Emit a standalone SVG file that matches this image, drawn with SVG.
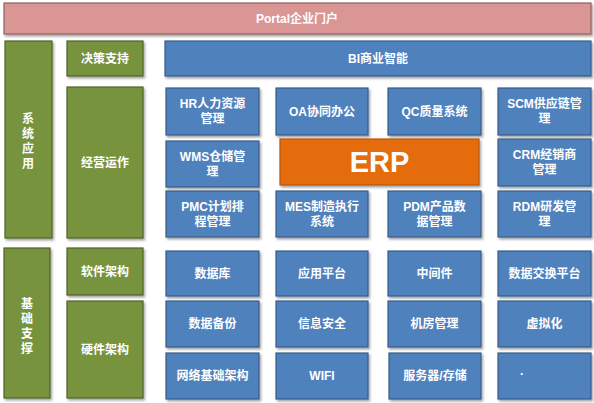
<svg xmlns="http://www.w3.org/2000/svg" width="594" height="403" viewBox="0 0 594 403">
<defs>
<filter id="sh" x="-10%" y="-10%" width="125%" height="130%">
<feDropShadow dx="1.5" dy="2" stdDeviation="1.2" flood-color="#000" flood-opacity="0.35"/>
</filter>
<style>
rect{filter:url(#sh);stroke-width:1.2}
.b{fill:#4f81bd;stroke:#385d8a}
.g{fill:#77933c;stroke:#4f6228}
.p{fill:#d99694;stroke:#8c6262}
.o{fill:#e46c0a;stroke:#b65708}
text{font-family:"Liberation Sans","Noto Sans CJK SC",sans-serif;font-weight:bold;font-size:12px;fill:#fff;text-anchor:middle;dominant-baseline:central}
.v{writing-mode:vertical-rl;letter-spacing:3px;font-family:"Noto Sans CJK SC",sans-serif}
.big{font-size:29px}
</style>
</defs>
<rect width="594" height="403" fill="#fff" style="filter:none"/>
<g id="portal"><rect class="p" x="4" y="3" width="587" height="31"/><text x="297" y="18.5">Portal企业门户</text></g>
<g id="xtyy"><rect class="g" x="5" y="41" width="47" height="197"/><text class="v" x="28" y="142">系统应用</text></g>
<g id="jczc"><rect class="g" x="4" y="248" width="46" height="150"/><text class="v" x="27" y="327">基础支撑</text></g>
<g id="jczc2"><rect class="g" x="67" y="41" width="76" height="35"/><text x="105" y="58.5">决策支持</text></g>
<g id="jyyz"><rect class="g" x="67" y="87" width="76" height="151"/><text x="105" y="163">经营运作</text></g>
<g id="rjjg"><rect class="g" x="67" y="248" width="76" height="47"/><text x="105" y="272">软件架构</text></g>
<g id="yjjg"><rect class="g" x="67" y="301" width="76" height="97"/><text x="105" y="350">硬件架构</text></g>
<g id="bi"><rect class="b" x="165" y="41" width="426" height="35"/><text x="378" y="58.5">BI商业智能</text></g>
<g id="hr"><rect class="b" x="166" y="88" width="93" height="47"/><text x="212.5" y="104">HR人力资源</text><text x="212.5" y="119">管理</text></g>
<g id="oa"><rect class="b" x="276" y="88" width="92" height="47"/><text x="322" y="111.5">OA协同办公</text></g>
<g id="qc"><rect class="b" x="388" y="88" width="93" height="47"/><text x="434.5" y="111.5">QC质量系统</text></g>
<g id="scm"><rect class="b" x="498" y="88" width="93" height="47"/><text x="544.5" y="104">SCM供应链管</text><text x="544.5" y="119">理</text></g>
<g id="wms"><rect class="b" x="166" y="141" width="93" height="46"/><text x="212.5" y="156.5">WMS仓储管</text><text x="212.5" y="171.5">理</text></g>
<g id="erp"><rect class="o" x="280" y="139" width="199" height="46"/><text class="big" x="379.5" y="162">ERP</text></g>
<g id="crm"><rect class="b" x="498" y="139" width="93" height="47"/><text x="544.5" y="154.5">CRM经销商</text><text x="544.5" y="169.5">管理</text></g>
<g id="pmc"><rect class="b" x="166" y="191" width="93" height="46"/><text x="212.5" y="206.5">PMC计划排</text><text x="212.5" y="221.5">程管理</text></g>
<g id="mes"><rect class="b" x="276" y="191" width="92" height="46"/><text x="322" y="206.5">MES制造执行</text><text x="322" y="221.5">系统</text></g>
<g id="pdm"><rect class="b" x="388" y="191" width="93" height="46"/><text x="434.5" y="206.5">PDM产品数</text><text x="434.5" y="221.5">据管理</text></g>
<g id="rdm"><rect class="b" x="498" y="191" width="93" height="46"/><text x="544.5" y="206.5">RDM研发管</text><text x="544.5" y="221.5">理</text></g>
<g id="sjk"><rect class="b" x="166" y="251" width="93" height="45"/><text x="212.5" y="273.5">数据库</text></g>
<g id="yypt"><rect class="b" x="276" y="251" width="92" height="45"/><text x="322" y="273.5">应用平台</text></g>
<g id="zjj"><rect class="b" x="388" y="251" width="93" height="45"/><text x="434.5" y="273.5">中间件</text></g>
<g id="sjjh"><rect class="b" x="498" y="251" width="93" height="45"/><text x="544.5" y="273.5">数据交换平台</text></g>
<g id="sjbf"><rect class="b" x="166" y="301" width="93" height="46"/><text x="212.5" y="324">数据备份</text></g>
<g id="xxaq"><rect class="b" x="276" y="301" width="92" height="46"/><text x="322" y="324">信息安全</text></g>
<g id="jfgl"><rect class="b" x="388" y="301" width="93" height="46"/><text x="434.5" y="324">机房管理</text></g>
<g id="xnh"><rect class="b" x="498" y="301" width="93" height="46"/><text x="544.5" y="324">虚拟化</text></g>
<g id="wl"><rect class="b" x="166" y="353" width="93" height="46"/><text x="212.5" y="376">网络基础架构</text></g>
<g id="wifi"><rect class="b" x="276" y="353" width="92" height="46"/><text x="322" y="376">WIFI</text></g>
<g id="fwq"><rect class="b" x="389" y="353" width="92" height="46"/><text x="435" y="376">服务器/存储</text></g>
<g id="blank"><rect class="b" x="498" y="353" width="93" height="46"/><text x="522" y="374">·</text></g>
<g id="connectors"/>
</svg>
